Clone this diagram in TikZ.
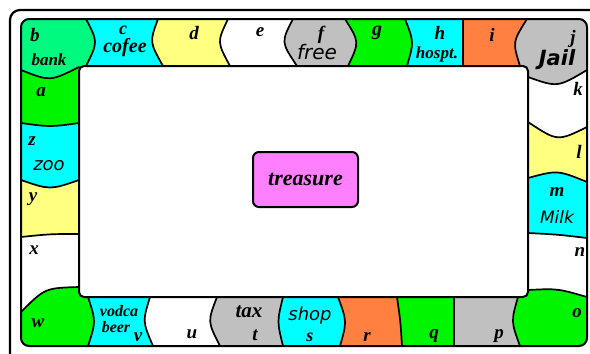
\documentclass[tikz,border=0pt]{standalone}
\usepackage{fontspec}
\setmainfont{Liberation Serif}
\newfontfamily\dvsans{DejaVu Sans}
\definecolor{cspring}{RGB}{0,250,128}
\definecolor{cgreen}{RGB}{0,245,0}
\definecolor{ccyan}{RGB}{0,255,255}
\definecolor{cyellow}{RGB}{255,255,128}
\definecolor{cgray}{RGB}{192,192,192}
\definecolor{corange}{RGB}{255,128,64}
\definecolor{cpink}{RGB}{255,128,255}
% top row cell: colour, left boundary (top,ctrl,bottom), right boundary (top,ctrl,bottom)
\newcommand\topcell[7]{\fill[#1] (#2,10) -- (#5,10) -- (#5,19) .. controls (#6,42) .. (#7,66) -- (#7,72) -- (#4,72) -- (#4,66) .. controls (#3,42) .. (#2,19) -- cycle;}
\newcommand\botcell[7]{\fill[#1] (#2,291) -- (#5,291) -- (#5,297) .. controls (#6,321.5) .. (#7,346) -- (#7,354) -- (#4,354) -- (#4,346) .. controls (#3,321.5) .. (#2,297) -- cycle;}
\newcommand\leftcell[7]{\fill[#1] (12,#2) -- (21,#2) .. controls (50,#3) .. (79,#4) -- (86,#4) -- (86,#7) -- (79,#7) .. controls (50,#6) .. (21,#5) -- (12,#5) -- cycle;}
\newcommand\rightcell[7]{\fill[#1] (521,#2) -- (528,#2) .. controls (557.5,#3) .. (587,#4) -- (596,#4) -- (596,#7) -- (587,#7) .. controls (557.5,#6) .. (528,#5) -- (521,#5) -- cycle;}
\newcommand\tbd[3]{\draw[bd] (#1,19) .. controls (#2,42) .. (#3,66);}
\newcommand\bbd[3]{\draw[bd] (#1,297) .. controls (#2,321.5) .. (#3,346);}
\newcommand\lbd[3]{\draw[bd] (21,#1) .. controls (50,#2) .. (79,#3);}
\newcommand\rbd[3]{\draw[bd] (528,#1) .. controls (557.5,#2) .. (587,#3);}
\tikzset{
  bd/.style={line width=1.7pt, line join=round, line cap=round},
  sf/.style={font=\fontsize{#1}{#1}\selectfont\bfseries\itshape, inner sep=0pt},
  ss/.style={font=\fontsize{#1}{#1}\selectfont\dvsans\itshape, inner sep=0pt},
  ssb/.style={font=\fontsize{#1}{#1}\selectfont\dvsans\bfseries\itshape, inner sep=0pt},
}
\begin{document}
\begin{tikzpicture}[x=1pt,y=-1pt]
\useasboundingbox (0,0) rectangle (590,354);
\fill[white] (0,0) rectangle (590,354);
\begin{scope}
\clip[rounded corners=8] (21,19) rectangle (587,346);
% corners
\fill[cspring] (12,10) -- (86,10) -- (86,19) .. controls (98,42) .. (86,66) -- (86,72) -- (79,72) -- (79,67) .. controls (50,81.5) .. (21,70) -- (12,70) -- cycle;
\fill[cgray] (527,10) -- (596,10) -- (596,70) -- (587,70) .. controls (557.5,87.5) .. (528,77) -- (520,77) -- (520,66) .. controls (512.5,42) .. (527,19) -- cycle;
\fill[cgreen] (520,354) -- (596,354) -- (596,297) -- (587,297) .. controls (557.5,288.5) .. (528,290) -- (520,290) -- (518,297) .. controls (511,321.5) .. (520,346) -- (520,354) -- cycle;
\fill[cgreen] (12,312) -- (21,312) .. controls (45,288) .. (79,287) -- (86,287) -- (86,297) -- (88,297) .. controls (96,321.5) .. (88,346) -- (88,354) -- (12,354) -- cycle;
% top row
\topcell{ccyan}{86}{98}{86}{158}{149.5}{163}
\topcell{cyellow}{158}{149.5}{163}{228}{217}{230}
\topcell{white}{228}{217}{230}{293}{281}{297}
\topcell{cgray}{293}{281}{297}{345}{359.5}{348}
\topcell{cgreen}{345}{359.5}{348}{405}{414}{407}
\topcell{ccyan}{405}{414}{407}{463}{463}{463}
\topcell{corange}{463}{463}{463}{527}{512.5}{520}
% left column
\leftcell{cgreen}{70}{81.5}{67}{123}{127}{123}
\leftcell{ccyan}{123}{127}{123}{180}{190}{180}
\leftcell{cyellow}{180}{190}{180}{237}{234}{234}
% bottom row
\botcell{ccyan}{88}{96}{88}{150}{142.5}{153}
\botcell{white}{150}{142.5}{153}{217}{207.5}{220}
\botcell{cgray}{217}{207.5}{220}{283}{277}{283}
\botcell{ccyan}{283}{277}{283}{338}{347}{340}
\botcell{corange}{338}{347}{340}{397}{400.5}{402}
\botcell{cgreen}{397}{400.5}{402}{454}{454}{454}
\botcell{cgray}{454}{454}{454}{518}{511}{520}
% right column
\rightcell{cyellow}{122}{141.5}{127}{178}{170}{182}
\rightcell{ccyan}{178}{170}{182}{233}{234.5}{238}
\end{scope}
% boundaries
\tbd{86}{98}{86}
\tbd{158}{149.5}{163}
\tbd{228}{217}{230}
\tbd{293}{281}{297}
\tbd{345}{359.5}{348}
\tbd{405}{414}{407}
\tbd{463}{463}{463}
\tbd{527}{512.5}{520}
\lbd{70}{81.5}{67}
\lbd{123}{127}{123}
\lbd{180}{190}{180}
\lbd{237}{234}{234}
\draw[bd] (21,312) .. controls (45,288) .. (79,287);
\bbd{88}{96}{88}
\bbd{150}{142.5}{153}
\bbd{217}{207.5}{220}
\bbd{283}{277}{283}
\bbd{338}{347}{340}
\bbd{397}{400.5}{402}
\bbd{454}{454}{454}
\bbd{518}{511}{520}
\rbd{77}{87.5}{70}
\rbd{122}{141.5}{127}
\rbd{178}{170}{182}
\rbd{233}{234.5}{238}
\rbd{290}{288.5}{297}
% inner field, board outline, outer frame
\draw[line width=2pt, fill=white, rounded corners=5] (79,66) rectangle (528,297);
\draw[line width=2pt, rounded corners=8] (21,19) rectangle (587,346);
\draw[line width=2.2pt, rounded corners=10] (10,10) rectangle (612,372);
% treasure
\node[draw, line width=2pt, fill=cpink, rounded corners=6, minimum width=105pt, minimum height=55pt, sf=22] (treasure) at (305.5,179.5) {treasure};
% labels
\node[sf=19] (lb) at (35,35) {b};
\node[sf=17] (wbank) at (49,60) {bank};
\node[sf=18] (lc) at (123,30) {c};
\node[sf=20] (wcofee) at (125,48) {cofee};
\node[sf=19] (ld) at (194,33) {d};
\node[sf=19] (le) at (260,32) {e};
\node[sf=19] (lf) at (321,35) {f};
\node[ss=20] (wfree) at (317,52) {free};
\node[sf=20] (lg) at (377,33) {g};
\node[sf=19] (lh) at (440,33) {h};
\node[sf=17] (whospt) at (437,54) {hospt.};
\node[sf=19] (li) at (492,35) {i};
\node[sf=19] (lj) at (573,39) {j};
\node[ssb=21] (wjail) at (557,60) {Jail};
\node[sf=19] (lk) at (578,89) {k};
\node[sf=19] (ll) at (579,152) {l};
\node[sf=19] (lm) at (557,192) {m};
\node[ss=17] (wmilk) at (557,217) {Milk};
\node[sf=19] (ln) at (580,252) {n};
\node[sf=19] (lo) at (577,313) {o};
\node[sf=19] (lp) at (499,336) {p};
\node[sf=19] (lq) at (434,336) {q};
\node[sf=19] (lr) at (367,337) {r};
\node[sf=18] (ls) at (310,337) {s};
\node[ss=18] (wshop) at (310,316) {shop};
\node[sf=19] (lt) at (255,335) {t};
\node[sf=21] (wtax) at (249,312) {tax};
\node[sf=19] (lu) at (192,334) {u};
\node[sf=19] (lv) at (138,337) {v};
\node[sf=16] (wvodca) at (119,311) {vodca};
\node[sf=16] (wbeer) at (116,327) {beer};
\node[sf=19] (lw) at (38,323) {w};
\node[sf=19] (lx) at (34,250) {x};
\node[sf=19] (ly) at (33,199) {y};
\node[sf=19] (lz) at (32,141) {z};
\node[ss=18] (wzoo) at (49,166) {zoo};
\node[sf=19] (la) at (41,92) {a};
\end{tikzpicture}
\end{document}
